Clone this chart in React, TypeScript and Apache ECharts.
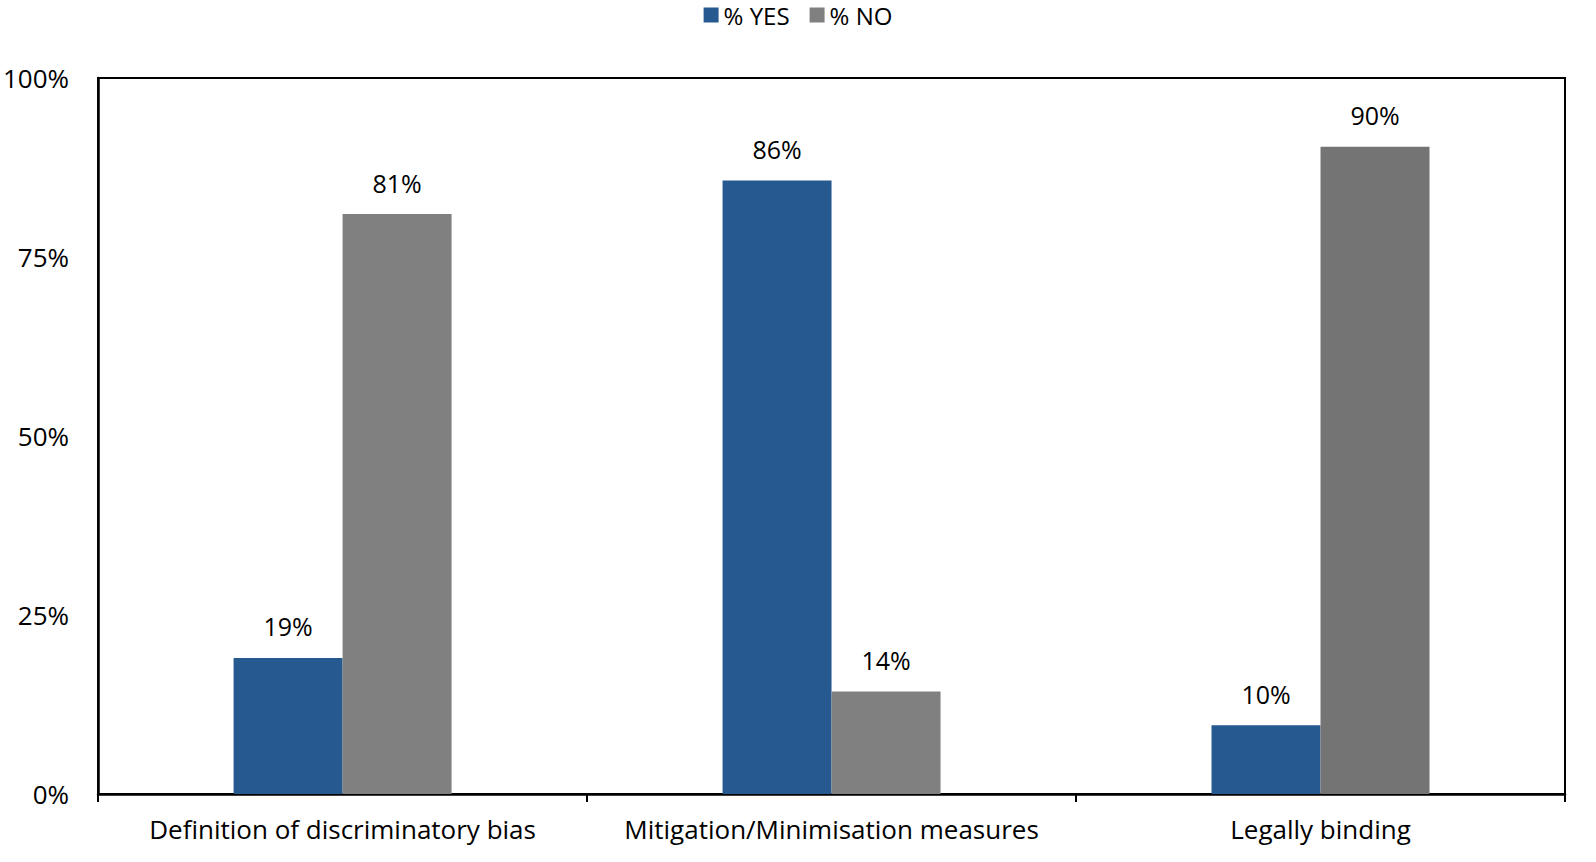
import React, { useEffect, useRef } from "react";
import * as echarts from "echarts";

const categories = ["Definition of discriminatory bias", "Mitigation/Minimisation measures", "Legally binding"];
const yesValues = [19.0, 85.7, 9.6];
const noValues = [81.0, 14.3, 90.4];
const yTicks = [0, 25, 50, 75, 100];

const FONT = "'Open Sans', 'Noto Sans', sans-serif";

export default function App() {
  const ref = useRef<HTMLDivElement>(null);
  useEffect(() => {
    if (!ref.current) return;
    const chart = echarts.init(ref.current, null, { renderer: "svg" });
    const labelCfg = {
      show: true,
      position: "top" as const,
      distance: 19,
      color: "#000",
      fontSize: 25,
      fontFamily: FONT,
      formatter: (p: any) => Math.round(p.value) + "%",
    };
    chart.setOption({
      animation: false,
      backgroundColor: "#fff",
      textStyle: { fontFamily: FONT },
      legend: {
        top: 3,
        left: "center",
        padding: 0,
        itemWidth: 15,
        itemHeight: 15,
        itemGap: 20,
        icon: "rect",
        textStyle: { fontSize: 24, color: "#000", fontFamily: FONT, lineHeight: 24 },
        data: ["% YES", "% NO"],
      },
      grid: {
        left: 93,
        right: 31,
        top: 78,
        bottom: 68,
        show: true,
        borderColor: "#000",
        borderWidth: 2,
        containLabel: false,
      },
      xAxis: {
        type: "category",
        data: categories,
        axisLine: { lineStyle: { color: "#000", width: 2.5 } },
        axisTick: { show: true, length: 8, interval: 0, alignWithLabel: false, lineStyle: { color: "#000", width: 2 } },
        axisLabel: { color: "#000", fontSize: 26, fontFamily: FONT, margin: 22, interval: 0 },
      },
      yAxis: {
        type: "value",
        min: 0,
        max: 100,
        interval: 25,
        axisLine: { show: true, lineStyle: { color: "#000", width: 2.5 } },
        axisTick: { show: false },
        splitLine: { show: false },
        axisLabel: {
          color: "#000",
          fontSize: 26,
          fontFamily: FONT,
          margin: 29,
          formatter: (v: number) => (yTicks.includes(v) ? v + "%" : ""),
        },
      },
      series: [
        {
          name: "% YES",
          type: "bar",
          data: yesValues,
          barWidth: 109,
          barGap: "0%",
          itemStyle: { color: "#255990" },
          label: labelCfg,
        },
        {
          name: "% NO",
          type: "bar",
          data: noValues.map((v, i) => ({ value: v, itemStyle: { color: i === 2 ? "#747474" : "#808080" } })),
          barWidth: 109,
          barGap: "0%",
          itemStyle: { color: "#808080" },
          label: labelCfg,
        },
      ],
    });
    return () => chart.dispose();
  }, []);
  return <div ref={ref} style={{ position: "absolute", left: 0, top: 0, width: 1596, height: 862 }} />;
}
